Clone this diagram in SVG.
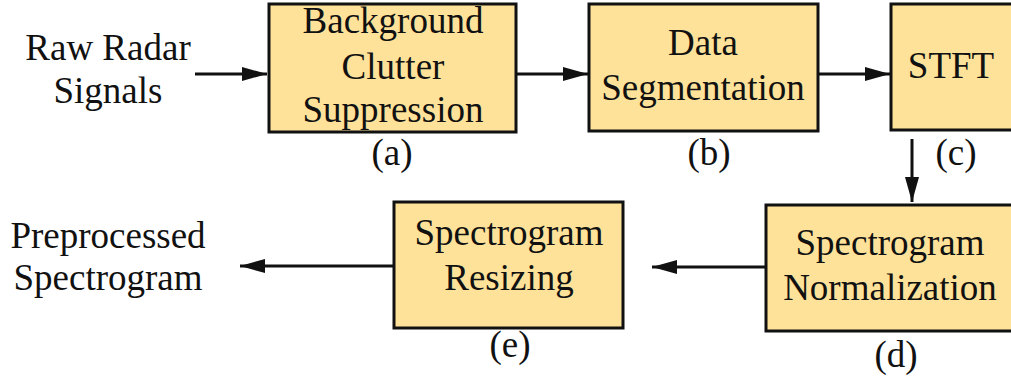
<svg xmlns="http://www.w3.org/2000/svg" width="1011" height="380" viewBox="0 0 1011 380">
  <style>
    .box { fill: #FEE299; stroke: #111; stroke-width: 3; }
    .t { font-family: "Liberation Serif", "Times New Roman", serif; font-size: 37px; fill: #111; text-anchor: middle; }
    .edge { stroke: #111; stroke-width: 3; fill: none; marker-end: url(#head); }
  </style>
  <defs>
    <marker id="head" markerUnits="userSpaceOnUse" markerWidth="26" markerHeight="16" refX="25" refY="7" orient="auto">
      <path d="M0,0 L25,7 L0,14 z" fill="#111"/>
    </marker>
  </defs>
  <rect width="1011" height="380" fill="#fff"/>

  <!-- input / output labels -->
  <g id="input">
    <text class="t" x="108" y="60">Raw Radar</text>
    <text class="t" x="108" y="103">Signals</text>
  </g>
  <g id="output">
    <text class="t" x="108" y="248">Preprocessed</text>
    <text class="t" x="108" y="290">Spectrogram</text>
  </g>

  <!-- processing stages -->
  <g id="stage-a">
    <rect class="box" x="269" y="4" width="247" height="128"/>
    <text class="t" x="393" y="33">Background</text>
    <text class="t" x="393" y="79">Clutter</text>
    <text class="t" x="393" y="122">Suppression</text>
    <text class="t" x="392" y="165">(a)</text>
  </g>
  <g id="stage-b">
    <rect class="box" x="589" y="4" width="229" height="127"/>
    <text class="t" x="703" y="55">Data</text>
    <text class="t" x="703" y="100">Segmentation</text>
    <text class="t" x="709" y="165">(b)</text>
  </g>
  <g id="stage-c">
    <rect class="box" x="891" y="4" width="122" height="126"/>
    <text class="t" x="951" y="78">STFT</text>
    <text class="t" x="956" y="165">(c)</text>
  </g>
  <g id="stage-d">
    <rect class="box" x="766" y="205" width="247" height="126"/>
    <text class="t" x="890" y="255">Spectrogram</text>
    <text class="t" x="890" y="300">Normalization</text>
    <text class="t" x="896" y="367">(d)</text>
  </g>
  <g id="stage-e">
    <rect class="box" x="394" y="202" width="229" height="126"/>
    <text class="t" x="509" y="245">Spectrogram</text>
    <text class="t" x="509" y="290">Resizing</text>
    <text class="t" x="510" y="357">(e)</text>
  </g>

  <!-- connectors -->
  <g id="connectors">
    <line class="edge" x1="195" y1="74" x2="267" y2="74"/>
    <line class="edge" x1="517" y1="74" x2="588" y2="74"/>
    <line class="edge" x1="819" y1="74" x2="890" y2="74"/>
    <line class="edge" x1="912" y1="139" x2="912" y2="202"/>
    <line class="edge" x1="765" y1="267" x2="652" y2="267"/>
    <line class="edge" x1="393" y1="266" x2="240" y2="266"/>
  </g>
</svg>
